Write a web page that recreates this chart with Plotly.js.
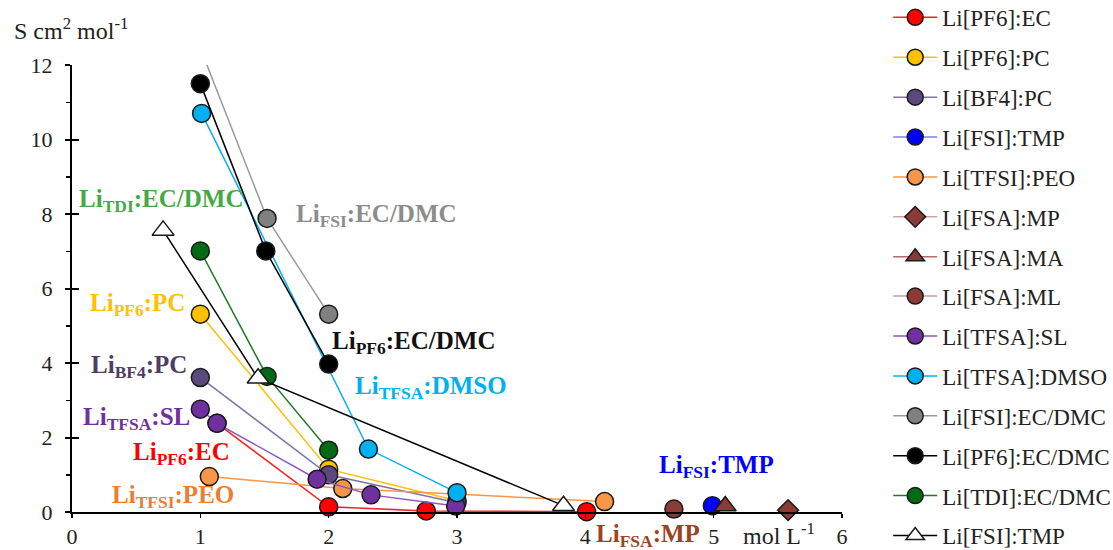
<!DOCTYPE html>
<html>
<head>
<meta charset="utf-8">
<script src="https://cdn.plot.ly/plotly-3.0.1.min.js"></script>
<style>
  html, body { margin: 0; padding: 0; background: #ffffff; }
  #chart { width: 1113px; height: 550px; }
</style>
</head>
<body>
<div id="chart"></div>
<script>
// Molar conductivity (S cm2 mol-1) against salt concentration (mol L-1)

const pf6EcX = [1.13, 2.0, 2.76, 4.01];
const pf6EcY = [2.38, 0.14, 0.03, 0.01];

const pf6PcX = [1.0, 2.0, 3.0];
const pf6PcY = [5.31, 1.15, 0.30];

const bf4PcX = [1.0, 2.0, 3.0];
const bf4PcY = [3.61, 1.0, 0.25];

const fsiTmpX = [4.99];
const fsiTmpY = [0.17];

const tfsiPeoX = [1.07, 2.11, 4.15];
const tfsiPeoY = [0.95, 0.63, 0.28];

const fsaMpX = [5.58];
const fsaMpY = [0.05];

const fsaMaX = [5.09];
const fsaMaY = [0.16];

const fsaMlX = [4.69];
const fsaMlY = [0.08];

const tfsaSlX = [1.0, 1.13, 1.91, 2.33, 2.99];
const tfsaSlY = [2.76, 2.38, 0.88, 0.46, 0.16];

const tfsaDmsoX = [1.01, 2.31, 3.0];
const tfsaDmsoY = [10.7, 1.69, 0.52];

const fsiEcDmcX = [1.0, 1.52, 2.0];
const fsiEcDmcY = [12.45, 7.88, 5.31];

const pf6EcDmcX = [1.0, 1.51, 2.0];
const pf6EcDmcY = [11.5, 7.01, 3.97];

const tdiEcDmcX = [1.0, 1.52, 2.0];
const tdiEcDmcY = [7.01, 3.64, 1.66];

const fsiTmpTriX = [0.71, 1.45, 3.83];
const fsiTmpTriY = [7.56, 3.59, 0.17];

const xTicks = [0, 1, 2, 3, 4, 5, 6];
const yTicks = [0, 2, 4, 6, 8, 10, 12];

// On-chart series labels: [html text, x, y, colour, yref]
const seriesLabels = [
  ['Li<sub>TDI</sub>:EC/DMC', 0.69, 8.35, '#46A948', 'y'],
  ['Li<sub>FSI</sub>:EC/DMC', 2.37, 7.95, '#8C8C8C', 'y'],
  ['Li<sub>PF6</sub>:PC', 0.51, 5.56, '#FFC000', 'y'],
  ['Li<sub>PF6</sub>:EC/DMC', 2.66, 4.56, '#111111', 'y'],
  ['Li<sub>BF4</sub>:PC', 0.52, 3.90, '#4E3D66', 'y'],
  ['Li<sub>TFSA</sub>:DMSO', 2.80, 3.35, '#00B0F0', 'y'],
  ['Li<sub>TFSA</sub>:SL', 0.50, 2.51, '#7030A0', 'y'],
  ['Li<sub>PF6</sub>:EC', 0.85, 1.57, '#FF0000', 'y'],
  ['Li<sub>TFSI</sub>:PEO', 0.79, 0.41, '#ED7D31', 'y'],
  ['Li<sub>FSI</sub>:TMP', 5.02, 1.22, '#0000FF', 'y'],
  // sits under the x axis, so it is placed in paper units
  ['Li<sub>FSA</sub>:MP', 4.49, -0.052, '#9C4420', 'paper']
];

const SERIF = 'Liberation Serif, Times New Roman, serif';
const OUTLINE = { color: '#1a1a1a', width: 1.5 };

function series(name, xs, ys, lineColor, fill, symbol, legendId, size, clip) {
  return {
    type: 'scatter',
    mode: 'lines+markers',
    name: name,
    legend: legendId,
    legendgroup: name + symbol,
    x: xs,
    y: ys,
    cliponaxis: !!clip,
    line: { color: lineColor, width: 1.5 },
    marker: { color: fill, symbol: symbol, size: size || 18, line: OUTLINE }
  };
}

const traces = [
  series('Li[PF6]:EC', pf6EcX, pf6EcY, '#FF2020', '#FF0000', 'circle', 'legend'),
  series('Li[PF6]:PC', pf6PcX, pf6PcY, '#FFC000', '#FFC000', 'circle', 'legend'),
  series('Li[BF4]:PC', bf4PcX, bf4PcY, '#8373A3', '#5A4A7C', 'circle', 'legend'),
  series('Li[FSI]:TMP', fsiTmpX, fsiTmpY, '#7F7FFF', '#0000FF', 'circle', 'legend'),
  series('Li[TFSI]:PEO', tfsiPeoX, tfsiPeoY, '#F79646', '#F79646', 'circle', 'legend'),
  series('Li[FSA]:MP', fsaMpX, fsaMpY, '#CFA3A3', '#8B3A36', 'diamond', 'legend', 16),
  series('Li[FSA]:MA', fsaMaX, fsaMaY, '#B56A6A', '#8B3A36', 'triangle-up', 'legend', 19),
  series('Li[FSA]:ML', fsaMlX, fsaMlY, '#C79C9C', '#8B3A36', 'circle', 'legend2'),
  series('Li[TFSA]:SL', tfsaSlX, tfsaSlY, '#8C55BC', '#7030A0', 'circle', 'legend2'),
  series('Li[TFSA]:DMSO', tfsaDmsoX, tfsaDmsoY, '#00B0F0', '#00B0F0', 'circle', 'legend2'),
  series('Li[FSI]:EC/DMC', fsiEcDmcX, fsiEcDmcY, '#9A9A9A', '#808080', 'circle', 'legend2', 18, true),
  series('Li[PF6]:EC/DMC', pf6EcDmcX, pf6EcDmcY, '#000000', '#000000', 'circle', 'legend2'),
  series('Li[TDI]:EC/DMC', tdiEcDmcX, tdiEcDmcY, '#1E7A28', '#006B14', 'circle', 'legend2'),
  series('Li[FSI]:TMP', fsiTmpTriX, fsiTmpTriY, '#000000', '#FFFFFF', 'triangle-up', 'legend2', 19),
  // empty trace that carries the inner tick marks of the y axis
  { type: 'scatter', x: [], y: [], yaxis: 'y2', showlegend: false, hoverinfo: 'skip' }
];

const annotations = seriesLabels.map(([text, x, y, color, yref]) => ({
  text: text, x: x, y: y, xref: 'x', yref: yref,
  xanchor: 'center', yanchor: 'middle', showarrow: false,
  font: { family: SERIF, size: 25, color: color, weight: 'bold' }
}));

annotations.push({
  text: 'S cm<sup>2</sup> mol<sup>-1</sup>', xref: 'paper', yref: 'paper',
  x: -0.0013, y: 1.08, xanchor: 'center', yanchor: 'middle', showarrow: false,
  font: { family: SERIF, size: 24, color: '#222222' }
});
annotations.push({
  text: 'mol L<sup>-1</sup>', xref: 'x', yref: 'paper',
  x: 5.51, y: -0.05, xanchor: 'center', yanchor: 'middle', showarrow: false,
  font: { family: SERIF, size: 24, color: '#222222' }
});

const legendStyle = {
  x: 1.060, xanchor: 'left',
  font: { family: SERIF, size: 23, color: '#222222' },
  tracegroupgap: 7, itemwidth: 44, bgcolor: 'rgba(0,0,0,0)'
};

const layout = {
  width: 1113,
  height: 550,
  paper_bgcolor: '#ffffff',
  plot_bgcolor: '#ffffff',
  margin: { l: 72, r: 271, t: 65, b: 38, pad: 0, autoexpand: false },
  showlegend: true,
  legend: Object.assign({ y: 0.5215, yanchor: 'bottom' }, legendStyle),
  legend2: Object.assign({ y: 0.531, yanchor: 'top' }, legendStyle),
  xaxis: {
    range: [0, 6], tickvals: xTicks, ticktext: xTicks.map(String),
    showline: true, linecolor: '#000000', linewidth: 2,
    ticks: 'outside', ticklen: 4, tickwidth: 1.5, tickcolor: '#000000',
    tickfont: { family: SERIF, size: 22, color: '#222222' },
    showgrid: false, zeroline: false, fixedrange: true
  },
  yaxis: {
    range: [0, 12], tickvals: yTicks, ticktext: yTicks.map(String),
    showline: true, linecolor: '#000000', linewidth: 2,
    ticks: 'outside', ticklen: 5, tickwidth: 2, tickcolor: '#000000',
    minor: { dtick: 1, ticks: 'outside', ticklen: 4, tickwidth: 1.5, tickcolor: '#000000' },
    ticklabelstandoff: 8,
    tickfont: { family: SERIF, size: 22, color: '#222222' },
    showgrid: false, zeroline: false, fixedrange: true
  },
  yaxis2: {
    overlaying: 'y', anchor: 'x', side: 'left',
    range: [0, 12], tickvals: yTicks,
    ticks: 'inside', ticklen: 7, tickwidth: 2, tickcolor: '#000000',
    showticklabels: false, showline: false, showgrid: false, zeroline: false, fixedrange: true
  },
  annotations: annotations
};

Plotly.newPlot('chart', traces, layout, { displayModeBar: false, staticPlot: true });
</script>
</body>
</html>
